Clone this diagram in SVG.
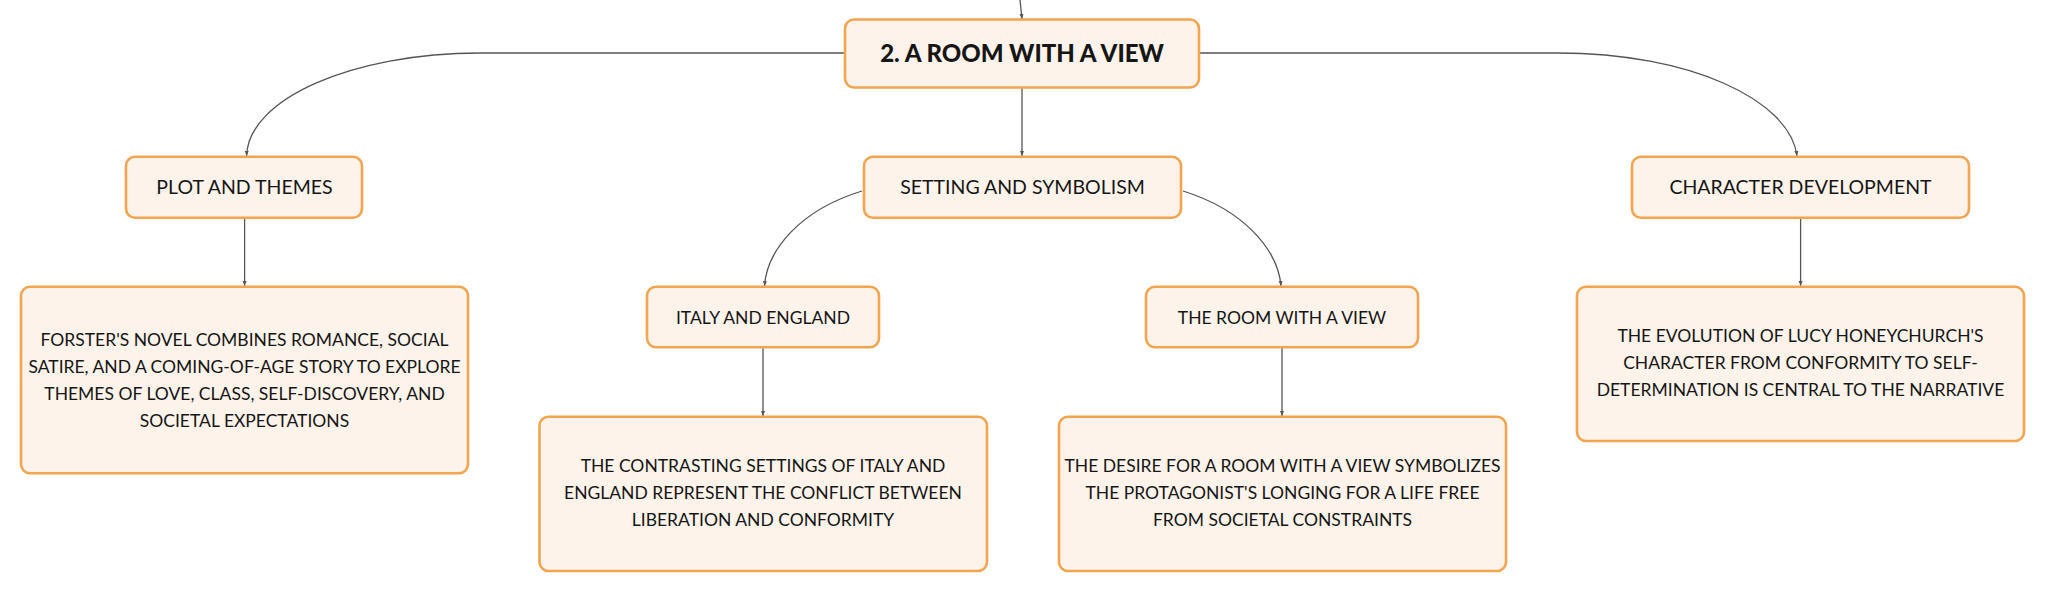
<svg xmlns="http://www.w3.org/2000/svg" width="2046" height="591" viewBox="0 0 2046 591">
<defs>
<marker id="arr" viewBox="0 0 10 10" refX="10" refY="5" markerWidth="5" markerHeight="5" orient="auto" markerUnits="userSpaceOnUse">
<path d="M0,1 L10,5 L0,9 z" fill="#555"/>
</marker>
<style>
.box{fill:#fdf3ea;stroke:#f2a44f;stroke-width:2.6}
.t{font-family:Lato,"Noto Sans",sans-serif;fill:#161616;text-anchor:middle}
.lbl{font-size:19.5px}
.det{font-size:17.5px}
.title{font-size:24px;font-weight:900}
.c{fill:none;stroke:#555;stroke-width:1.3}
</style>
</defs>
<rect width="2046" height="591" fill="#fff"/>
<g id="connectors">
<path class="c" d="M1020,0 L1022,19" marker-end="url(#arr)"/>
<path class="c" d="M845,53 L480,53 C352,53 248,99 246.6,156" marker-end="url(#arr)"/>
<path class="c" d="M1199,53 L1558,53 C1690,53 1790,100 1797,156" marker-end="url(#arr)"/>
<path class="c" d="M1022,88 L1022,156" marker-end="url(#arr)"/>
<path class="c" d="M862,191 C800,210 767,250 764.5,286" marker-end="url(#arr)"/>
<path class="c" d="M1183,191 C1244,210 1278,250 1281,286" marker-end="url(#arr)"/>
<path class="c" d="M244.6,218 L244.6,286" marker-end="url(#arr)"/>
<path class="c" d="M1800.6,218 L1800.6,286" marker-end="url(#arr)"/>
<path class="c" d="M763,347.5 L763,416" marker-end="url(#arr)"/>
<path class="c" d="M1282,347.5 L1282,416" marker-end="url(#arr)"/>
</g>
<g id="main">
<rect class="box" x="845" y="19.5" width="354" height="68" rx="9"/>
<text class="t title" x="1022" y="62">2. A ROOM WITH A VIEW</text>
</g>
<g id="plot">
<rect class="box" x="126" y="156.7" width="236" height="61" rx="9"/>
<text class="t lbl" x="244.5" y="194">PLOT AND THEMES</text>
</g>
<g id="setting">
<rect class="box" x="864" y="156.7" width="317" height="61" rx="9"/>
<text class="t lbl" x="1022.5" y="194">SETTING AND SYMBOLISM</text>
</g>
<g id="character">
<rect class="box" x="1632" y="156.7" width="337" height="61" rx="9"/>
<text class="t lbl" x="1800.5" y="194">CHARACTER DEVELOPMENT</text>
</g>
<g id="forster">
<rect class="box" x="21" y="286.7" width="447" height="186.6" rx="9"/>
<text class="t det" x="244.5" y="345.5">FORSTER'S NOVEL COMBINES ROMANCE, SOCIAL</text>
<text class="t det" x="244.5" y="372.5">SATIRE, AND A COMING-OF-AGE STORY TO EXPLORE</text>
<text class="t det" x="244.5" y="399.5">THEMES OF LOVE, CLASS, SELF-DISCOVERY, AND</text>
<text class="t det" x="244.5" y="426.5">SOCIETAL EXPECTATIONS</text>
</g>
<g id="italy">
<rect class="box" x="647" y="286.7" width="232" height="60.6" rx="9"/>
<text class="t det" x="763" y="323.5">ITALY AND ENGLAND</text>
</g>
<g id="room">
<rect class="box" x="1146" y="286.7" width="272" height="60.6" rx="9"/>
<text class="t det" x="1282" y="323.5">THE ROOM WITH A VIEW</text>
</g>
<g id="contrasting">
<rect class="box" x="539.5" y="416.7" width="447.5" height="154.3" rx="9"/>
<text class="t det" x="763" y="472">THE CONTRASTING SETTINGS OF ITALY AND</text>
<text class="t det" x="763" y="499">ENGLAND REPRESENT THE CONFLICT BETWEEN</text>
<text class="t det" x="763" y="526">LIBERATION AND CONFORMITY</text>
</g>
<g id="desire">
<rect class="box" x="1059" y="416.7" width="447" height="154.3" rx="9"/>
<text class="t det" x="1282.5" y="472">THE DESIRE FOR A ROOM WITH A VIEW SYMBOLIZES</text>
<text class="t det" x="1282.5" y="499">THE PROTAGONIST'S LONGING FOR A LIFE FREE</text>
<text class="t det" x="1282.5" y="526">FROM SOCIETAL CONSTRAINTS</text>
</g>
<g id="evolution">
<rect class="box" x="1577" y="286.7" width="447" height="154.3" rx="9"/>
<text class="t det" x="1800.5" y="342">THE EVOLUTION OF LUCY HONEYCHURCH'S</text>
<text class="t det" x="1800.5" y="369">CHARACTER FROM CONFORMITY TO SELF-</text>
<text class="t det" x="1800.5" y="396">DETERMINATION IS CENTRAL TO THE NARRATIVE</text>
</g>
</svg>
